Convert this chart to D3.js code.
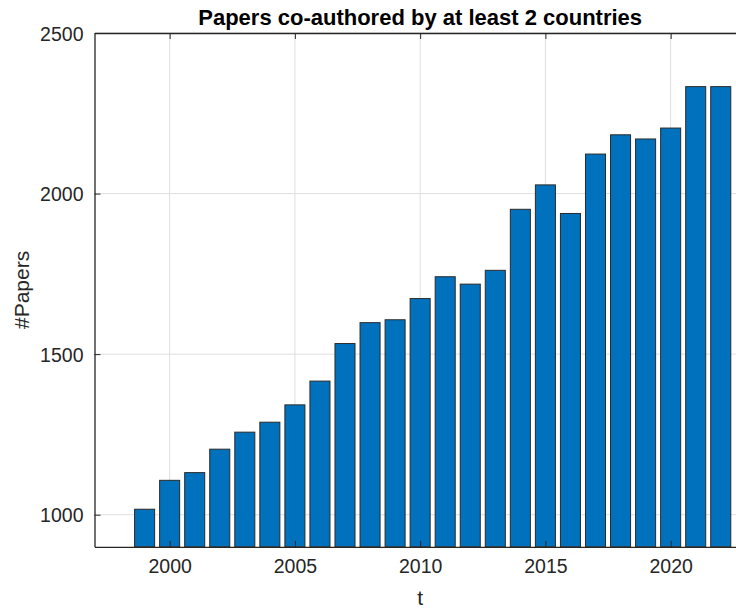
<!DOCTYPE html>
<html><head><meta charset="utf-8">
<script src="https://cdn.jsdelivr.net/npm/d3@7"></script>
<style>body{margin:0;background:#fff}svg{display:block}text{font-family:"Liberation Sans",Arial,Helvetica,sans-serif}</style>
</head><body><svg id="c" width="736" height="608"></svg>
<script>
const years = [1999,2000,2001,2002,2003,2004,2005,2006,2007,2008,2009,2010,2011,2012,2013,2014,2015,2016,2017,2018,2019,2020,2021,2022];
const papers = [1017,1107,1131,1204,1257,1288,1342,1416,1533,1598,1607,1673,1741,1718,1761,1951,2027,1938,2123,2183,2170,2204,2333,2333];
const xTicks = [2000,2005,2010,2015,2020];
const yTicks = [1000,1500,2000,2500];
const title = "Papers co-authored by at least 2 countries";
const xLabel = "t", yLabel = "#Papers";

const svg = d3.select("#c");
const L = 94.5, T = 33, B = 546.8, R = 745.8;
const x = d3.scaleLinear().domain([1997, 2023]).range([L, R]);
const y = d3.scaleLinear().domain([900, 2500]).range([B, T]);
const axisCol = "#262626", gridCol = "#dfdfdf";

// grid
svg.append("g").selectAll("line").data(xTicks).join("line")
  .attr("x1", d => x(d)).attr("x2", d => x(d)).attr("y1", T).attr("y2", B)
  .attr("stroke", gridCol).attr("stroke-width", 1);
svg.append("g").selectAll("line").data(yTicks).join("line")
  .attr("x1", L).attr("x2", R).attr("y1", d => y(d)).attr("y2", d => y(d))
  .attr("stroke", gridCol).attr("stroke-width", 1);

// bars
const bw = 0.8 * (x(1) - x(0));
svg.append("g").selectAll("rect").data(years).join("rect")
  .attr("x", (d) => x(d) - bw / 2)
  .attr("width", bw)
  .attr("y", (d, i) => y(papers[i]))
  .attr("height", (d, i) => B - y(papers[i]))
  .attr("fill", "#0072BD").attr("stroke", "#2a2a2a").attr("stroke-width", 1);

// axes
const gx = svg.append("g").attr("transform", `translate(0,${B})`)
  .call(d3.axisBottom(x).tickValues(xTicks).tickFormat(d3.format("d")).tickSizeInner(-6).tickSizeOuter(0).tickPadding(12));
const gxt = svg.append("g").attr("transform", `translate(0,${T})`)
  .call(d3.axisTop(x).tickValues(xTicks).tickFormat("").tickSizeInner(-6).tickSizeOuter(0));
const gy = svg.append("g").attr("transform", `translate(${L},0)`)
  .call(d3.axisLeft(y).tickValues(yTicks).tickFormat(d3.format("d")).tickSizeInner(-6).tickSizeOuter(0).tickPadding(11));
[gx, gxt, gy].forEach(g => {
  g.select(".domain").attr("stroke", axisCol).attr("stroke-width", 1.3);
  g.selectAll(".tick line").attr("stroke", axisCol).attr("stroke-width", 1);
  g.selectAll("text").attr("fill", axisCol).style("font-size", "19.5px");
});
gx.selectAll("text").attr("dy", "0.71em");
gy.selectAll("text").attr("dy", "0.36em");

// title & labels
svg.append("text").attr("x", (L + R) / 2).attr("y", 24.5).attr("text-anchor", "middle")
  .style("font-size", "22px").style("font-weight", "bold").attr("fill", "#000").text(title);
svg.append("text").attr("x", (L + R) / 2).attr("y", 605).attr("text-anchor", "middle")
  .style("font-size", "21px").attr("fill", axisCol).text(xLabel);
svg.append("text").attr("transform", `translate(29,${(T + B) / 2}) rotate(-90)`).attr("text-anchor", "middle")
  .style("font-size", "21px").attr("fill", axisCol).text(yLabel);
</script></body></html>
